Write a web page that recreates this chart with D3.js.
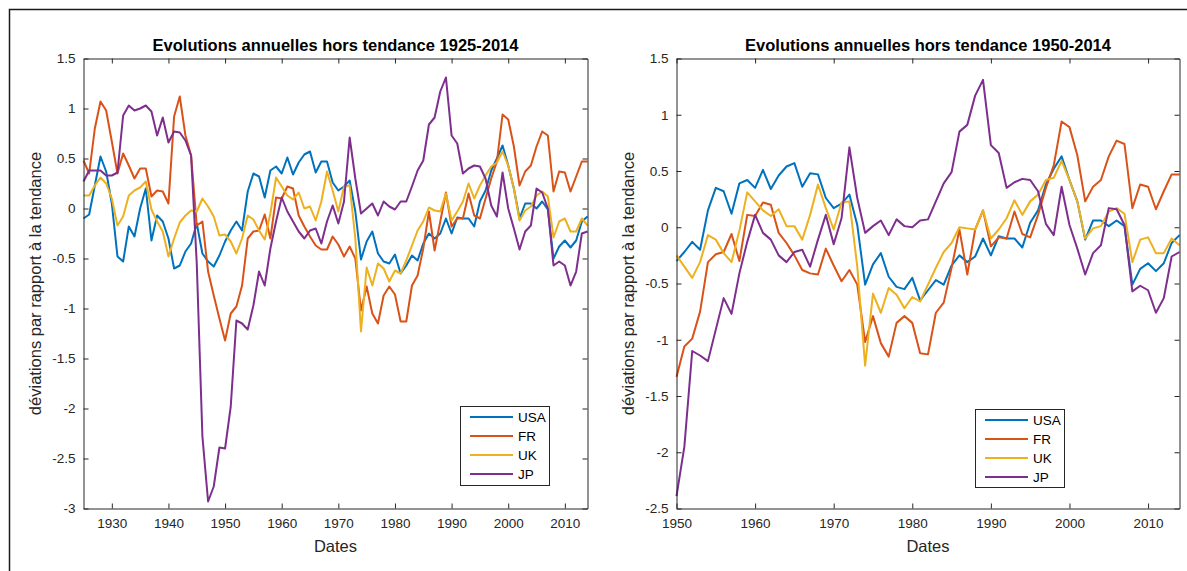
<!DOCTYPE html>
<html>
<head>
<meta charset="utf-8">
<script src="https://cdn.jsdelivr.net/npm/d3@7"></script>
<style>
  html, body { margin: 0; padding: 0; background: #fff; }
  svg { display: block; }
  text { font-family: "Liberation Sans", Arial, Helvetica, sans-serif; }
</style>
</head>
<body>
<svg id="chart" width="1187" height="571"></svg>
<script>
// ---------------- DATA ----------------
const seriesNames = ["USA", "FR", "UK", "JP"];
const seriesColors = ["#0072BD", "#D95319", "#EDB120", "#7E2F8E"];

const titleLeft = "Evolutions annuelles hors tendance 1925-2014";
const titleRight = "Evolutions annuelles hors tendance 1950-2014";
const xLabel = "Dates";
const yLabel = "déviations par rapport à la tendance";

const yearsLeft = d3.range(1925, 2015);
const yearsRight = d3.range(1950, 2015);

const xTicksLeft = [1930, 1940, 1950, 1960, 1970, 1980, 1990, 2000, 2010];
const xTicksRight = [1950, 1960, 1970, 1980, 1990, 2000, 2010];
const yTicksLeft = [1.5, 1, 0.5, 0, -0.5, -1, -1.5, -2, -2.5, -3];
const yTicksRight = [1.5, 1, 0.5, 0, -0.5, -1, -1.5, -2, -2.5];

const usaL = [
-0.10,-0.06,0.23,0.52,0.37,0.05,-0.48,-0.53,-0.18,-0.28,
0.00,0.20,-0.32,-0.07,-0.13,-0.30,-0.60,-0.57,-0.43,-0.35,
-0.15,-0.45,-0.53,-0.58,-0.47,-0.33,-0.22,-0.13,-0.22,0.17,
0.35,0.32,0.11,0.38,0.42,0.35,0.51,0.34,0.46,0.54,
0.57,0.36,0.47,0.47,0.26,0.18,0.22,0.28,-0.03,-0.51,
-0.33,-0.23,-0.45,-0.53,-0.55,-0.46,-0.65,-0.57,-0.47,-0.52,
-0.35,-0.25,-0.30,-0.25,-0.10,-0.25,-0.09,-0.10,-0.10,-0.18,
0.07,0.18,0.38,0.50,0.63,0.43,0.20,-0.10,0.05,0.05,
0.00,0.07,-0.01,-0.50,-0.38,-0.32,-0.39,-0.32,-0.13,-0.08];

const frL = [
0.48,0.35,0.80,1.07,0.98,0.67,0.35,0.55,0.43,0.30,
0.40,0.40,0.12,0.18,0.17,0.05,0.92,1.12,0.73,0.53,
-0.17,-0.13,-0.63,-0.87,-1.10,-1.32,-1.05,-0.98,-0.77,-0.30,
-0.23,-0.22,-0.06,-0.30,0.11,0.10,0.22,0.20,-0.07,-0.18,
-0.28,-0.37,-0.41,-0.41,-0.28,-0.36,-0.48,-0.38,-0.50,-1.02,
-0.78,-1.05,-1.15,-0.87,-0.78,-0.86,-1.13,-1.13,-0.77,-0.67,
-0.40,-0.03,-0.42,-0.13,0.16,-0.18,-0.10,-0.10,0.15,-0.07,
-0.10,0.10,0.30,0.47,0.94,0.89,0.62,0.23,0.37,0.43,
0.62,0.77,0.73,0.17,0.37,0.36,0.17,0.32,0.47,0.47];

const ukL = [
0.13,0.13,0.23,0.31,0.25,0.10,-0.17,-0.08,0.13,0.18,
0.21,0.27,-0.01,-0.13,-0.23,-0.48,-0.30,-0.14,-0.07,-0.02,
-0.03,0.10,0.02,-0.08,-0.27,-0.26,-0.33,-0.45,-0.30,-0.07,
-0.11,-0.22,-0.31,-0.05,0.31,0.22,0.13,0.09,0.16,0.00,
0.02,-0.12,0.07,0.37,0.18,-0.03,0.22,0.23,-0.30,-1.23,
-0.59,-0.77,-0.55,-0.60,-0.73,-0.62,-0.65,-0.52,-0.37,-0.22,
-0.13,0.01,-0.02,-0.03,0.15,-0.12,-0.03,0.07,0.25,0.10,
0.23,0.33,0.42,0.46,0.57,0.43,0.20,-0.12,-0.02,0.02,
0.13,0.17,0.12,-0.29,-0.13,-0.10,-0.23,-0.23,-0.10,-0.17];

const jpL = [
0.27,0.38,0.38,0.38,0.33,0.33,0.36,0.93,1.03,0.98,
1.00,1.03,0.97,0.73,0.91,0.66,0.77,0.76,0.68,0.53,
-0.55,-2.28,-2.93,-2.78,-2.39,-2.40,-1.98,-1.12,-1.15,-1.21,
-0.97,-0.63,-0.77,-0.40,-0.13,0.11,-0.03,-0.13,-0.23,-0.30,
-0.22,-0.20,-0.35,-0.13,0.03,-0.15,0.07,0.71,0.30,-0.05,
0.00,0.05,-0.07,0.07,0.02,-0.01,0.07,0.07,0.22,0.38,
0.48,0.84,0.91,1.17,1.31,0.73,0.65,0.35,0.40,0.43,
0.42,0.30,0.03,-0.08,0.36,0.00,-0.20,-0.41,-0.23,-0.17,
0.20,0.16,0.00,-0.57,-0.53,-0.57,-0.77,-0.63,-0.25,-0.23];

const usaR = [
-0.30,-0.22,-0.13,-0.20,0.15,0.35,0.32,0.12,0.39,0.42,
0.35,0.51,0.34,0.46,0.54,0.57,0.36,0.48,0.47,0.26,
0.17,0.21,0.29,0.02,-0.51,-0.33,-0.23,-0.44,-0.53,-0.55,
-0.45,-0.65,-0.56,-0.47,-0.51,-0.34,-0.25,-0.31,-0.26,-0.10,
-0.25,-0.08,-0.10,-0.10,-0.18,0.04,0.15,0.38,0.52,0.63,
0.42,0.23,-0.11,0.06,0.06,0.01,0.06,0.01,-0.51,-0.37,
-0.32,-0.39,-0.32,-0.14,-0.07];

const frR = [
-1.33,-1.06,-0.99,-0.75,-0.31,-0.24,-0.22,-0.06,-0.30,0.11,
0.10,0.22,0.20,-0.05,-0.14,-0.25,-0.38,-0.41,-0.42,-0.19,
-0.34,-0.48,-0.38,-0.51,-1.02,-0.79,-1.03,-1.15,-0.85,-0.79,
-0.85,-1.12,-1.13,-0.76,-0.67,-0.36,-0.02,-0.42,-0.02,0.15,
-0.17,-0.09,-0.10,0.14,-0.06,-0.09,0.11,0.35,0.55,0.94,
0.89,0.64,0.23,0.36,0.42,0.63,0.77,0.74,0.17,0.38,
0.36,0.16,0.32,0.47,0.47];

const ukR = [
-0.25,-0.35,-0.45,-0.31,-0.07,-0.11,-0.23,-0.31,-0.03,0.31,
0.23,0.15,0.10,0.16,0.01,0.01,-0.11,0.11,0.38,0.17,
-0.02,0.22,0.23,-0.35,-1.23,-0.59,-0.76,-0.54,-0.60,-0.72,
-0.62,-0.66,-0.51,-0.36,-0.22,-0.14,0.00,-0.01,-0.02,0.15,
-0.10,-0.02,0.08,0.24,0.11,0.23,0.29,0.42,0.44,0.59,
0.42,0.23,-0.10,-0.01,0.01,0.14,0.17,0.12,-0.31,-0.11,
-0.09,-0.23,-0.23,-0.10,-0.16];

const jpR = [
-2.39,-1.95,-1.10,-1.14,-1.19,-0.91,-0.63,-0.77,-0.41,-0.13,
0.11,-0.05,-0.11,-0.25,-0.31,-0.22,-0.20,-0.35,-0.11,0.11,
-0.15,0.08,0.71,0.26,-0.05,0.01,0.06,-0.07,0.07,0.01,
0.00,0.06,0.07,0.23,0.39,0.49,0.85,0.91,1.17,1.31,
0.73,0.66,0.35,0.40,0.43,0.42,0.32,0.03,-0.07,0.36,
0.02,-0.19,-0.42,-0.23,-0.16,0.17,0.16,0.02,-0.57,-0.52,
-0.56,-0.76,-0.63,-0.26,-0.22];

// ---------------- DRAW ----------------
const svg = d3.select("#chart");
const axisColor = "#262626";

// outer frame
svg.append("rect")
  .attr("x", 9.5).attr("y", 9.5)
  .attr("width", 1300).attr("height", 700)
  .attr("fill", "none").attr("stroke", "#1a1a1a").attr("stroke-width", 1.5);

function drawPanel(cfg) {
  const { x0, x1, yTop, yBot, years, series, xDomain, yDomain, xTicks, yTicks, title, legend } = cfg;
  const x = d3.scaleLinear().domain(xDomain).range([x0, x1]);
  const y = d3.scaleLinear().domain(yDomain).range([yBot, yTop]);
  const g = svg.append("g");

  // data lines
  const line = d3.line().x(d => x(d[0])).y(d => y(d[1]));
  series.forEach((vals, i) => {
    g.append("path")
      .datum(years.map((yr, k) => [yr, vals[k]]))
      .attr("d", line)
      .attr("fill", "none")
      .attr("stroke", seriesColors[i])
      .attr("stroke-width", 2)
      .attr("stroke-linejoin", "round");
  });

  const fmt = d => String(d).replace("\u2212", "-");
  const tickLen = 5;

  // bottom axis
  const axB = g.append("g").attr("transform", `translate(0,${yBot})`)
    .call(d3.axisBottom(x).tickValues(xTicks).tickSizeInner(-tickLen).tickSizeOuter(0).tickPadding(10).tickFormat(d3.format("d")));
  // top axis (mirror, no labels)
  const axT = g.append("g").attr("transform", `translate(0,${yTop})`)
    .call(d3.axisTop(x).tickValues(xTicks).tickSizeInner(-tickLen).tickSizeOuter(0).tickFormat(""));
  // left axis
  const axL = g.append("g").attr("transform", `translate(${x0},0)`)
    .call(d3.axisLeft(y).tickValues(yTicks).tickSizeInner(-tickLen).tickSizeOuter(0).tickPadding(8).tickFormat(d => fmt(d)));
  // right axis
  const axR = g.append("g").attr("transform", `translate(${x1},0)`)
    .call(d3.axisRight(y).tickValues(yTicks).tickSizeInner(-tickLen).tickSizeOuter(0).tickFormat(""));

  [axB, axT, axL, axR].forEach(a => {
    a.select(".domain").attr("stroke", axisColor).attr("stroke-width", 1);
    a.selectAll(".tick line").attr("stroke", axisColor).attr("stroke-width", 1);
    a.selectAll(".tick text")
      .attr("fill", axisColor)
      .style("font-family", '"Liberation Sans", Arial, sans-serif')
      .style("font-size", "13.5px");
  });

  // title
  g.append("text")
    .attr("x", (x0 + x1) / 2).attr("y", 51)
    .attr("text-anchor", "middle")
    .attr("fill", "#000")
    .style("font-size", "16.5px").style("font-weight", "bold")
    .text(title);

  // x label
  g.append("text")
    .attr("x", (x0 + x1) / 2).attr("y", 552)
    .attr("text-anchor", "middle")
    .attr("fill", axisColor)
    .style("font-size", "16.5px")
    .text(xLabel);

  // y label
  const yl = x0 - 43;
  g.append("text")
    .attr("transform", `translate(${yl},${(yTop + yBot) / 2}) rotate(-90)`)
    .attr("text-anchor", "middle")
    .attr("fill", axisColor)
    .style("font-size", "16.5px")
    .text(yLabel);

  // legend
  const lg = g.append("g");
  lg.append("rect")
    .attr("x", legend.x + 0.5).attr("y", legend.y + 0.5)
    .attr("width", legend.w).attr("height", legend.h)
    .attr("fill", "#fff").attr("stroke", axisColor).attr("stroke-width", 1);
  seriesNames.forEach((name, i) => {
    const cy = legend.y + 11 + i * 19;
    lg.append("line")
      .attr("x1", legend.x + 10).attr("x2", legend.x + 53)
      .attr("y1", cy).attr("y2", cy)
      .attr("stroke", seriesColors[i]).attr("stroke-width", 2);
    lg.append("text")
      .attr("x", legend.x + 58).attr("y", cy + 5)
      .attr("fill", "#000")
      .style("font-size", "13.5px")
      .text(name);
  });
}

drawPanel({
  x0: 83.5, x1: 587.5, yTop: 58.5, yBot: 508.5,
  years: yearsLeft, series: [usaL, frL, ukL, jpL],
  xDomain: [1925, 2014], yDomain: [-3, 1.5],
  xTicks: xTicksLeft, yTicks: yTicksLeft,
  title: titleLeft,
  legend: { x: 460, y: 406, w: 89, h: 79 }
});

drawPanel({
  x0: 676.5, x1: 1179.5, yTop: 58.5, yBot: 508.5,
  years: yearsRight, series: [usaR, frR, ukR, jpR],
  xDomain: [1950, 2014], yDomain: [-2.5, 1.5],
  xTicks: xTicksRight, yTicks: yTicksRight,
  title: titleRight,
  legend: { x: 975, y: 409, w: 89, h: 78 }
});
</script>
</body>
</html>
